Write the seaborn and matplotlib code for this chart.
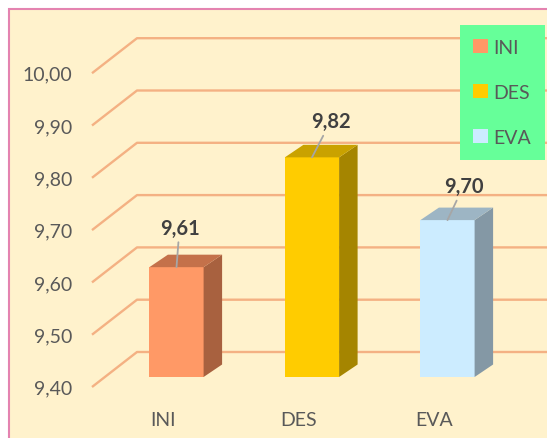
import matplotlib
matplotlib.use("Agg")
import matplotlib.pyplot as plt
from matplotlib.patches import Polygon, Rectangle, Patch
import seaborn as sns
import numpy as np

# ---- data ----
categories = ["INI", "DES", "EVA"]
values = [9.61, 9.82, 9.70]
y_ticks = [9.40, 9.50, 9.60, 9.70, 9.80, 9.90, 10.00]
base = 9.40

# ---- styles ----
front_colors = ["#FF9966", "#FFCC00", "#CCECFF"]
side_colors = ["#A8613F", "#A58500", "#8498A5"]
top_colors = ["#C4714A", "#C9A200", "#9DB5C4"]
label_offsets_pt = [(2.2, 28.5), (13.5, 26.0), (11.5, 24.5)]

sns.set_theme(style="white")
plt.rcParams["font.family"] = ["Lato", "DejaVu Sans"]

W, H = 547, 439
fig = plt.figure(figsize=(W / 100, H / 100), dpi=100)
fig.patch.set_facecolor("white")

# chart area background with pink border
fig.patches.append(Rectangle((9 / W, -0.05), 1.2, (H - 10) / H + 0.05,
                             transform=fig.transFigure, facecolor="#FFF2CC",
                             edgecolor="#E483B0", lw=1.5, zorder=-10))

ax = fig.add_axes([0, 0, 1, 1])
ax.set_facecolor("none")
ax.set_zorder(1)

px_per_cat = 135.5
px_per_unit = 523.0
heights = [v - base for v in values]

sns.barplot(x=categories, y=heights, hue=categories, palette=front_colors,
            width=0.40, saturation=1, legend=False, ax=ax, zorder=2,
            linewidth=0)

# axis mapping: pixel -> data
xc0 = 176.5
ax.set_xlim((0 - xc0) / px_per_cat, (W - xc0) / px_per_cat)
ax.set_ylim((378 - H) / px_per_unit, 378 / px_per_unit)
ax.axis("off")

dx = 18.5 / px_per_cat
dy = 12.5 / px_per_unit
back_off = 25 / px_per_unit
diag_dx = 45 / px_per_cat
diag_dy = 35 / px_per_unit
wall_x = (137 - xc0) / px_per_cat
grid_color = "#F4B183"

for t in y_ticks:
    hb = t - base + back_off
    ax.plot([wall_x - diag_dx, wall_x, ax.get_xlim()[1]],
            [hb - diag_dy, hb, hb], color=grid_color, lw=1.7, zorder=0.5,
            solid_capstyle="butt")
    ax.text((72 - xc0) / px_per_cat, hb - diag_dy - 1 / px_per_unit,
            f"{t:.2f}".replace(".", ","), ha="right", va="center",
            fontsize=14, color="#595959")

bars = [p for p in ax.patches if isinstance(p, Rectangle)]
for i, p in enumerate(bars):
    x0, w, h = p.get_x(), p.get_width(), p.get_height()
    side = Polygon([(x0 + w, 0), (x0 + w + dx, dy), (x0 + w + dx, h + dy), (x0 + w, h)],
                   closed=True, facecolor=side_colors[i], edgecolor="none", zorder=2)
    top = Polygon([(x0, h), (x0 + dx, h + dy), (x0 + w + dx, h + dy), (x0 + w, h)],
                  closed=True, facecolor=top_colors[i], edgecolor="none", zorder=2)
    ax.add_patch(side)
    ax.add_patch(top)
    ax.annotate(f"{values[i]:.2f}".replace(".", ","), xy=(x0 + w / 2, h),
                xytext=label_offsets_pt[i], textcoords="offset points",
                ha="center", va="center", fontsize=14.5, fontweight="bold",
                color="#404040", zorder=4,
                arrowprops=dict(arrowstyle="-", color="#A6A6A6", lw=1.3,
                                shrinkA=1, shrinkB=0))
    ax.text(x0 + w / 2 - 13 / px_per_cat, (378 - 421) / px_per_unit, categories[i],
            ha="center", va="center", fontsize=14, color="#595959")

handles = [Patch(facecolor=c, edgecolor="none") for c in front_colors]
leg = fig.legend(handles, categories, loc="upper right",
                 bbox_to_anchor=(545 / W, 1 - 26 / H), frameon=True,
                 fancybox=False, fontsize=14, labelspacing=1.45,
                 handlelength=0.75, handleheight=0.75, handletextpad=0.3,
                 borderpad=0.7, borderaxespad=0)
leg.set_zorder(5)
frame = leg.get_frame()
frame.set_facecolor("#66FF99")
frame.set_edgecolor("none")
frame.set_alpha(1)
for txt in leg.get_texts():
    txt.set_color("#595959")

fig.savefig("out.png", dpi=100)
